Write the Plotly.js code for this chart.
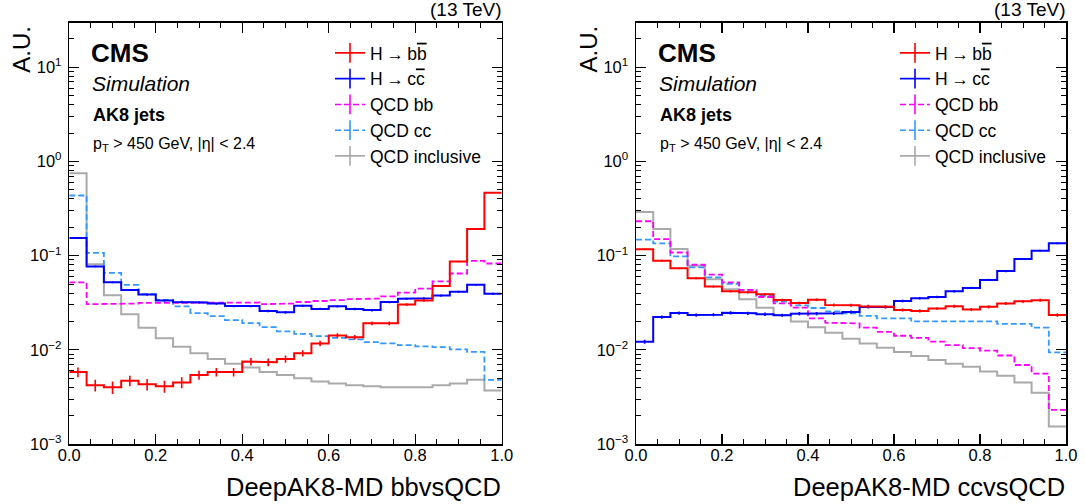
<!DOCTYPE html>
<html><head><meta charset="utf-8">
<script src="https://cdn.plot.ly/plotly-3.0.1.min.js"></script>
<style>html,body{margin:0;padding:0;background:#fff}</style>
</head><body><div id="chart" style="width:1085px;height:504px"></div>
<script>
// ---------------- data ----------------
const binEdges = [0.00,0.04,0.08,0.12,0.16,0.20,0.24,0.28,0.32,0.36,0.40,0.44,0.48,0.52,0.56,0.60,0.64,0.68,0.72,0.76,0.80,0.84,0.88,0.92,0.96,1.00];

const seriesNames = ['H\u2009→\u2009b<span style="text-decoration:overline">b</span>', 'H\u2009→\u2009c<span style="text-decoration:overline">c</span>', 'QCD bb', 'QCD cc', 'QCD inclusive'];

// Left panel: DeepAK8-MD bbvsQCD
const hbbLeft   = [0.0058,0.0042,0.0040,0.0047,0.0043,0.0041,0.0045,0.0054,0.0058,0.0058,0.0075,0.0074,0.0080,0.0092,0.0117,0.0142,0.0136,0.0191,0.0191,0.0302,0.0333,0.0477,0.0865,0.192,0.466];
const hccLeft   = [0.154,0.0769,0.0522,0.0433,0.0386,0.0333,0.0322,0.0318,0.0310,0.0292,0.0292,0.0258,0.0250,0.0293,0.0272,0.0290,0.0271,0.0264,0.0321,0.0348,0.0352,0.0377,0.0414,0.0490,0.0393];
const qcdbbLeft = [0.052,0.0305,0.0306,0.0310,0.0315,0.0318,0.0320,0.0320,0.0318,0.0315,0.0318,0.0305,0.0310,0.0322,0.0330,0.0337,0.0345,0.0350,0.0370,0.0405,0.0446,0.0532,0.0646,0.088,0.0825];
const qcdccLeft = [0.435,0.107,0.0656,0.0489,0.0389,0.0338,0.0290,0.0245,0.0228,0.0207,0.0192,0.0174,0.0157,0.0148,0.0140,0.0134,0.0129,0.0121,0.0117,0.0112,0.0109,0.0107,0.0101,0.0095,0.0048];
const qcdLeft   = [0.75,0.081,0.038,0.0238,0.0172,0.0133,0.0108,0.0092,0.0080,0.0071,0.0065,0.0058,0.0054,0.0050,0.0046,0.0044,0.0042,0.0041,0.0040,0.0040,0.0040,0.0042,0.0044,0.0048,0.0037];
const hbbLeftErr = [0.0007,0.0006,0.0006,0.0006,0.0006,0.0006,0.0006,0.0006,0.0006,0.0006,0.0007,0.0007,0.0007,0.0007,0.0008,0.0008,0.0008,0.0009,0.0009,0.0010,0.0010,0.0012,0.0015,0.0020,0.0030];
const hccLeftErr = [0.0030,0.0015,0.0012,0.0010,0.0010,0.0009,0.0009,0.0009,0.0009,0.0008,0.0008,0.0008,0.0008,0.0008,0.0008,0.0008,0.0008,0.0008,0.0009,0.0009,0.0009,0.0010,0.0010,0.0011,0.0010];

// Right panel: DeepAK8-MD ccvsQCD
const hbbRight   = [0.117,0.0883,0.0733,0.0577,0.0470,0.0419,0.0409,0.0389,0.0338,0.0314,0.0340,0.0300,0.0297,0.0290,0.0286,0.0265,0.0259,0.0274,0.0290,0.0268,0.0286,0.0310,0.0327,0.0336,0.0234];
const hccRight   = [0.0122,0.0223,0.0246,0.0234,0.0236,0.0247,0.0244,0.0239,0.0233,0.0242,0.0242,0.0244,0.0252,0.0285,0.0285,0.0330,0.0353,0.0364,0.0419,0.0454,0.0553,0.0685,0.092,0.113,0.135];
const qcdbbRight = [0.232,0.150,0.108,0.080,0.063,0.0519,0.0433,0.0364,0.0312,0.0281,0.0216,0.0194,0.0191,0.0172,0.0155,0.0141,0.0134,0.0122,0.0112,0.0104,0.0098,0.0087,0.0069,0.0056,0.0023];
const qcdccRight = [0.148,0.135,0.098,0.075,0.0587,0.0501,0.0430,0.0373,0.0325,0.0297,0.0278,0.0256,0.0244,0.0229,0.0216,0.0216,0.0200,0.0200,0.0200,0.0200,0.0200,0.0189,0.0189,0.0172,0.0094];
const qcdRight   = [0.29,0.192,0.1175,0.078,0.0562,0.0440,0.0344,0.0280,0.0234,0.0200,0.0174,0.0152,0.0131,0.0117,0.0105,0.0095,0.0086,0.0078,0.0071,0.0066,0.0059,0.0053,0.0045,0.0035,0.00153];
const hbbRightErr = [0.0025,0.0020,0.0017,0.0015,0.0013,0.0012,0.0012,0.0012,0.0011,0.0011,0.0011,0.0011,0.0011,0.0011,0.0011,0.0010,0.0010,0.0010,0.0011,0.0010,0.0011,0.0011,0.0012,0.0012,0.0010];
const hccRightErr = [0.0006,0.0009,0.0010,0.0009,0.0009,0.0010,0.0010,0.0010,0.0009,0.0010,0.0010,0.0010,0.0010,0.0010,0.0010,0.0011,0.0011,0.0012,0.0013,0.0013,0.0015,0.0017,0.0020,0.0022,0.0025];

const xTickVals = [0,0.2,0.4,0.6,0.8,1.0];
const xTickText = ['0.0','0.2','0.4','0.6','0.8','1.0'];
const yTickVals = [0.001,0.01,0.1,1,10];
const yTickText = ['10<sup>−3</sup>','10<sup>−2</sup>','10<sup>−1</sup>','10<sup>0</sup>','10<sup>1</sup>'];
const xTitles = ['DeepAK8-MD bbvsQCD','DeepAK8-MD ccvsQCD'];

// ---------------- styling ----------------
const FONT = 'Liberation Sans, Arial, Helvetica, sans-serif';
const styles = [
  {color:'#ff0000', dash:'solid', width:2},
  {color:'#0000ff', dash:'solid', width:2},
  {color:'#ff00ff', dash:'6px,3px', width:1.8},
  {color:'#3399ff', dash:'6px,3px', width:1.8},
  {color:'#aaaaaa', dash:'solid', width:2}
];

function stepXY(vals){
  const xs=[], ys=[];
  vals.forEach((v,i)=>{ xs.push(binEdges[i], binEdges[i+1]); ys.push(v, v); });
  return {xs, ys};
}
const centers = binEdges.slice(0,-1).map((e,i)=>(e+binEdges[i+1])/2);

const traces = [];
function addPanel(sets, errs, xa, ya, legendId){
  [4,3,2,1,0].forEach(k=>{
    const s = stepXY(sets[k]);
    traces.push({x:s.xs, y:s.ys, xaxis:xa, yaxis:ya, mode:'lines', showlegend:false, hoverinfo:'skip',
      line:{color:styles[k].color, width:styles[k].width, dash:styles[k].dash}});
    if(errs[k]){
      traces.push({x:centers, y:sets[k], xaxis:xa, yaxis:ya, mode:'markers', showlegend:false, hoverinfo:'skip',
        marker:{size:1, color:styles[k].color, opacity:0},
        error_y:{type:'data', array:errs[k], visible:true, width:0, thickness:1.6, color:styles[k].color}});
    }
  });
  [0,1,2,3,4].forEach(k=>{
    traces.push({x:[null], y:[null], xaxis:xa, yaxis:ya, mode:'lines+markers', name:seriesNames[k],
      legend:legendId, legendgroup:legendId+'g'+k,
      line:{color:styles[k].color, width:styles[k].width-0.3, dash:styles[k].dash},
      marker:{symbol:'line-ns', size:14, line:{width:1.6, color:styles[k].color}}});
  });
}
addPanel([hbbLeft,hccLeft,qcdbbLeft,qcdccLeft,qcdLeft],[hbbLeftErr,hccLeftErr,null,null,null],'x','y','legend');
addPanel([hbbRight,hccRight,qcdbbRight,qcdccRight,qcdRight],[hbbRightErr,hccRightErr,null,null,null],'x2','y2','legend2');

const W=1085, H=504;
const px = v => v/W, py = v => 1 - v/H;

function xaxisDef(domain, anchor){
  return {domain, anchor, range:[0,1], tickmode:'array', tickvals:xTickVals, ticktext:xTickText,
    ticks:'inside', ticklen:10, tickwidth:1.2, tickcolor:'#000', showline:true, linecolor:'#000', linewidth:1.5,
    mirror:'allticks', showgrid:false, zeroline:false, tickfont:{family:FONT, size:16.5, color:'#000'},
    ticklabelstandoff:-4,
    minor:{dtick:0.05, ticks:'inside', ticklen:5, tickwidth:1, tickcolor:'#000', showgrid:false}};
}
function yaxisDef(anchor){
  return {domain:[py(444), py(22.7)], anchor, type:'log', range:[-3, 1.4735], tickmode:'array',
    tickvals:yTickVals, ticktext:yTickText, ticks:'inside', ticklen:10, tickwidth:1.2, tickcolor:'#000',
    showline:true, linecolor:'#000', linewidth:1.5, mirror:'allticks', showgrid:false, zeroline:false,
    tickfont:{family:FONT, size:16.5, color:'#000'}, ticklabelstandoff:3,
    minor:{dtick:'D1', ticks:'inside', ticklen:5, tickwidth:1, tickcolor:'#000', showgrid:false}};
}

const annotations = [];
function panelText(x0, x1, xt){
  const base = {xref:'paper', yref:'paper', showarrow:false, font:{family:FONT, color:'#000'}};
  annotations.push(Object.assign({}, base, {text:'<b>CMS</b>', x:px(x0+19.5), y:py(53), xanchor:'left', yanchor:'middle', font:{family:FONT, size:26, color:'#000'}}));
  annotations.push(Object.assign({}, base, {text:'<i>Simulation</i>', x:px(x0+21), y:py(83.5), xanchor:'left', yanchor:'middle', font:{family:FONT, size:21, color:'#000'}}));
  annotations.push(Object.assign({}, base, {text:'<b>AK8 jets</b>', x:px(x0+21.5), y:py(115.5), xanchor:'left', yanchor:'middle', font:{family:FONT, size:18, color:'#000'}}));
  annotations.push(Object.assign({}, base, {text:'p<sub>T</sub> > 450 GeV, |η| < 2.4', x:px(x0+21.5), y:py(144), xanchor:'left', yanchor:'middle', font:{family:FONT, size:16, color:'#000'}}));
  annotations.push(Object.assign({}, base, {text:'(13 TeV)', x:px(x1+1), y:py(9.5), xanchor:'right', yanchor:'middle', font:{family:FONT, size:19, color:'#000'}}));
  annotations.push(Object.assign({}, base, {text:'A.U.', textangle:-90, x:px(x0-48), y:py(24), xanchor:'center', yanchor:'top', font:{family:FONT, size:24, color:'#000'}}));
  annotations.push(Object.assign({}, base, {text:xt, x:px(x1+1), y:py(486.5), xanchor:'right', yanchor:'middle', font:{family:FONT, size:25.5, color:'#000'}}));
}
panelText(69.3, 501.7, xTitles[0]);
panelText(636, 1066, xTitles[1]);

const legendBase = {yanchor:'top', xanchor:'left', bgcolor:'rgba(0,0,0,0)', borderwidth:0,
  font:{family:FONT, size:17.5, color:'#000'}, tracegroupgap:0, traceorder:'grouped'};

const layout = {
  width:W, height:H, margin:{l:0,r:0,t:0,b:0}, paper_bgcolor:'#fff', plot_bgcolor:'#fff',
  showlegend:true,
  xaxis: xaxisDef([px(69.3), px(501.7)], 'y'),
  yaxis: yaxisDef('x'),
  xaxis2: xaxisDef([px(636), px(1066)], 'y2'),
  yaxis2: yaxisDef('x2'),
  legend: Object.assign({}, legendBase, {x:px(330), y:py(35)}),
  legend2: Object.assign({}, legendBase, {x:px(895), y:py(35)}),
  annotations
};

Plotly.newPlot('chart', traces, layout, {staticPlot:true, displayModeBar:false});
</script></body></html>
